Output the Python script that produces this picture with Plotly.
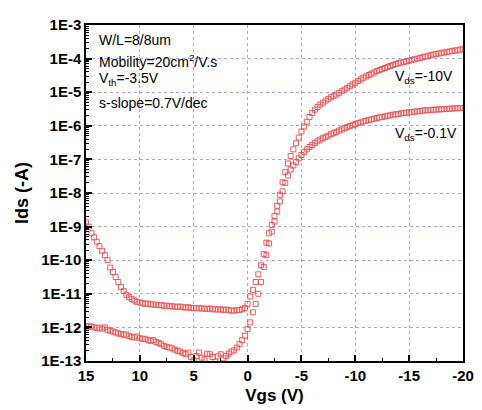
import plotly.graph_objects as go

# Gate voltage sweep (V)
vgs = [15.0, 14.75, 14.5, 14.25, 14.0, 13.75, 13.5, 13.25, 13.0, 12.75, 12.5, 12.25, 12.0, 11.75, 11.5, 11.25,
       11.0, 10.75, 10.5, 10.25, 10.0, 9.75, 9.5, 9.25, 9.0, 8.75, 8.5, 8.25, 8.0, 7.75, 7.5, 7.25,
       7.0, 6.75, 6.5, 6.25, 6.0, 5.75, 5.5, 5.25, 5.0, 4.75, 4.5, 4.25, 4.0, 3.75, 3.5, 3.25,
       3.0, 2.75, 2.5, 2.25, 2.0, 1.75, 1.5, 1.25, 1.0, 0.75, 0.5, 0.25, 0.0, -0.25, -0.5, -0.75,
       -1.0, -1.25, -1.5, -1.75, -2.0, -2.25, -2.5, -2.75, -3.0, -3.25, -3.5, -3.75, -4.0, -4.25, -4.5, -4.75,
       -5.0, -5.25, -5.5, -5.75, -6.0, -6.25, -6.5, -6.75, -7.0, -7.25, -7.5, -7.75, -8.0, -8.25, -8.5, -8.75,
       -9.0, -9.25, -9.5, -9.75, -10.0, -10.25, -10.5, -10.75, -11.0, -11.25, -11.5, -11.75, -12.0, -12.25, -12.5, -12.75,
       -13.0, -13.25, -13.5, -13.75, -14.0, -14.25, -14.5, -14.75, -15.0, -15.25, -15.5, -15.75, -16.0, -16.25, -16.5, -16.75,
       -17.0, -17.25, -17.5, -17.75, -18.0, -18.25, -18.5, -18.75, -19.0, -19.25, -19.5, -19.75, -20.0]

# log10(|Ids|), Vds = -10 V
log_ids_vds_10 = [-8.88, -9.0, -9.2, -9.32, -9.45, -9.58, -9.72, -9.85, -10.0, -10.22, -10.35, -10.5, -10.65, -10.8, -10.92, -11.03,
                  -11.1, -11.16, -11.2, -11.24, -11.26, -11.28, -11.3, -11.29, -11.31, -11.32, -11.33, -11.33, -11.34, -11.36, -11.35, -11.37,
                  -11.37, -11.38, -11.39, -11.38, -11.4, -11.41, -11.4, -11.42, -11.42, -11.43, -11.42, -11.44, -11.44, -11.45, -11.44, -11.46,
                  -11.46, -11.47, -11.46, -11.48, -11.47, -11.49, -11.5, -11.5, -11.49, -11.48, -11.46, -11.42, -11.3, -11.08, -10.88, -10.65,
                  -10.42, -10.15, -9.82, -9.48, -9.2, -8.95, -8.68, -8.38, -8.05, -7.68, -7.38, -7.12, -6.9, -6.7, -6.52, -6.35,
                  -6.17, -6.02, -5.88, -5.74, -5.62, -5.52, -5.44, -5.37, -5.31, -5.25, -5.2, -5.15, -5.11, -5.07, -5.02, -4.97,
                  -4.92, -4.87, -4.82, -4.77, -4.72, -4.67, -4.62, -4.57, -4.53, -4.49, -4.45, -4.41, -4.37, -4.34, -4.31, -4.28,
                  -4.25, -4.22, -4.19, -4.16, -4.14, -4.12, -4.1, -4.08, -4.06, -4.04, -4.02, -4.0, -3.98, -3.96, -3.94, -3.92,
                  -3.9, -3.88, -3.86, -3.85, -3.83, -3.82, -3.8, -3.79, -3.77, -3.76, -3.75, -3.73, -3.72]

# log10(|Ids|), Vds = -0.1 V
log_ids_vds_01 = [-11.96, -11.98, -11.97, -12.0, -12.02, -12.01, -12.04, -12.0, -12.07, -12.1, -12.12, -12.15, -12.18, -12.2, -12.22, -12.21,
                  -12.26, -12.28, -12.3, -12.27, -12.32, -12.35, -12.34, -12.38, -12.4, -12.38, -12.43, -12.46, -12.5, -12.55, -12.58, -12.6,
                  -12.62, -12.66, -12.7, -12.72, -12.76, -12.8, -12.75, -12.88, -12.98, -12.85, -12.75, -12.9, -12.95, -12.78, -12.8, -12.88,
                  -13.02, -12.86, -12.8, -12.92, -12.85, -12.78, -12.72, -12.68, -12.6, -12.5, -12.38, -12.25, -12.05, -11.85, -11.55, -11.3,
                  -11.0, -10.65, -10.2, -9.85, -9.5, -9.15, -8.85, -8.55, -8.25, -7.95, -7.7, -7.48, -7.3, -7.18, -7.08, -6.97,
                  -6.87, -6.78, -6.7, -6.63, -6.57, -6.51, -6.46, -6.41, -6.37, -6.33, -6.29, -6.25, -6.21, -6.18, -6.14, -6.11,
                  -6.07, -6.04, -6.01, -5.98, -5.95, -5.92, -5.9, -5.87, -5.85, -5.83, -5.81, -5.79, -5.77, -5.75, -5.74, -5.72,
                  -5.7, -5.69, -5.67, -5.66, -5.65, -5.63, -5.62, -5.61, -5.6, -5.59, -5.58, -5.57, -5.56, -5.55, -5.54, -5.54,
                  -5.53, -5.52, -5.52, -5.51, -5.51, -5.5, -5.5, -5.49, -5.49, -5.48, -5.48, -5.47, -5.47]

x_ticks = [15, 10, 5, 0, -5, -10, -15, -20]
x_ticktext = ["15", "10", "5", "0", "-5", "-10", "-15", "-20"]
x_minor_ticks = [12.5, 7.5, 2.5, -2.5, -7.5, -12.5, -17.5]
y_exponents = [-13, -12, -11, -10, -9, -8, -7, -6, -5, -4, -3]
y_ticktext = ["1E-13", "1E-12", "1E-11", "1E-10", "1E-9", "1E-8", "1E-7", "1E-6", "1E-5", "1E-4", "1E-3"]

ids_vds_10 = [10 ** v for v in log_ids_vds_10]
ids_vds_01 = [10 ** v for v in log_ids_vds_01]
y_tickvals = [10.0 ** e for e in y_exponents]
y_minor = [k * 10.0 ** e for e in y_exponents[:-1] for k in range(2, 10)]

RED = "#f23c3c"
FONT = "Liberation Sans, Arial, sans-serif"
grid = "rgba(70,70,255,0.5)"
XR = [15, -20]
YR = [-13, -3]

fig = go.Figure()
for ys, name in [(ids_vds_10, "Vds=-10V"), (ids_vds_01, "Vds=-0.1V")]:
    fig.add_trace(go.Scatter(
        x=vgs, y=ys, mode="markers", name=name,
        marker=dict(symbol="square-open", size=5, color=RED, line=dict(width=1, color=RED)),
        opacity=0.85,
    ))
# invisible helper trace so the minor-tick axes are drawn
fig.add_trace(go.Scatter(x=[vgs[0]], y=[ids_vds_10[0]], xaxis="x2", yaxis="y2", mode="markers",
                         marker=dict(opacity=0), hoverinfo="skip", showlegend=False))

# The page body adds an 8 px offset; the figure is sized so the plot box lands where the reference has it.
fig.update_layout(
    width=474, height=402,
    margin=dict(l=78, r=19, t=8, b=49),
    paper_bgcolor="white", plot_bgcolor="white",
    showlegend=False,
    font=dict(family=FONT, color="black"),
    xaxis=dict(
        range=XR, tickmode="array", tickvals=x_ticks, ticktext=x_ticktext,
        ticks="inside", ticklen=6, tickwidth=1.5, tickcolor="black",
        tickfont=dict(size=15, family=FONT, weight="bold"),
        showline=True, linecolor="black", linewidth=1.5, mirror=True,
        showgrid=True, gridcolor=grid, griddash="dot", gridwidth=1,
        zeroline=False,
        title=dict(text="<b>Vgs (V)</b>", font=dict(size=17, family=FONT), standoff=6),
    ),
    yaxis=dict(
        type="log", range=YR, tickmode="array", tickvals=y_tickvals, ticktext=y_ticktext,
        ticks="inside", ticklen=6, tickwidth=1.5, tickcolor="black",
        tickfont=dict(size=15, family=FONT, weight="bold"),
        showline=True, linecolor="black", linewidth=1.5, mirror=True,
        showgrid=True, gridcolor=grid, griddash="dot", gridwidth=1,
        zeroline=False,
        title=dict(text="<b>Ids (-A)</b>", font=dict(size=18, family=FONT), standoff=8),
    ),
    xaxis2=dict(overlaying="x", anchor="y2", side="bottom", range=XR, tickmode="array", tickvals=x_minor_ticks,
                ticks="inside", ticklen=3, tickwidth=1.2, tickcolor="black", showticklabels=False,
                showgrid=False, zeroline=False, showline=False),
    yaxis2=dict(overlaying="y", anchor="x2", type="log", range=YR, side="left", tickmode="array", tickvals=y_minor,
                ticks="inside", ticklen=3, tickwidth=1, tickcolor="black", showticklabels=False,
                showgrid=False, zeroline=False, showline=False),
)

info = [("W/L=8/8um", 0.954), ("Mobility=20cm<sup>2</sup>/V.s", 0.893),
        ("V<sub>th</sub>=-3.5V", 0.838), ("s-slope=0.7V/dec", 0.768)]
for txt, yp in info:
    fig.add_annotation(x=0.029, y=yp, xref="paper", yref="paper", text=txt, showarrow=False,
                       xanchor="left", yanchor="middle", font=dict(size=14, family=FONT))
for txt, yp in [("V<sub>ds</sub>=-10V", 0.845), ("V<sub>ds</sub>=-0.1V", 0.677)]:
    fig.add_annotation(x=0.814, y=yp, xref="paper", yref="paper", text=txt, showarrow=False,
                       xanchor="left", yanchor="middle", font=dict(size=14, family=FONT))

fig.write_html("out.html")
